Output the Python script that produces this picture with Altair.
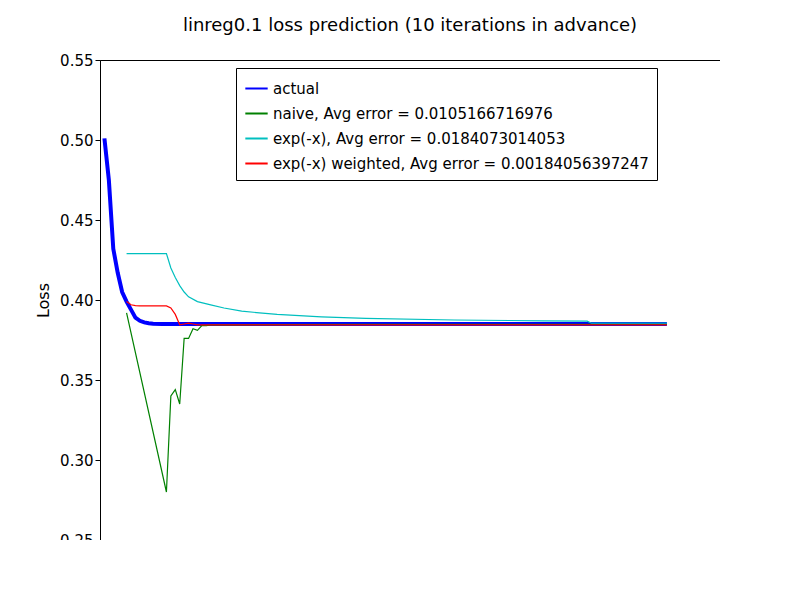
import altair as alt
import pandas as pd

actual_x = [1,2,3,4,5,6,7,8,9,10,11,12,14,16,20,30,60,100,128]
actual_y = [0.501,0.475,0.432,0.417,0.405,0.399,0.394,0.389,0.387,0.386,0.3855,0.3852,0.385,0.385,0.385,0.385,0.385,0.385,0.385]
naive_x = [6,15,16,17,18,19,20,21,22,23,24,25,30,60,100,128]
naive_y = [0.392,0.280,0.340,0.344,0.335,0.376,0.376,0.382,0.381,0.384,0.384,0.3845,0.3845,0.3848,0.3848,0.3848]
exp_x = [6,15,16,17,18,19,20,22,25,28,32,36,40,50,60,80,100,110,111,128]
exp_y = [0.429,0.429,0.420,0.414,0.409,0.405,0.402,0.399,0.397,0.395,0.393,0.392,0.391,0.3895,0.3885,0.3875,0.387,0.3868,0.3855,0.3855]
w_x = [6,7,8,9,15,16,17,18,19,20,21,22,128]
w_y = [0.399,0.397,0.3965,0.3963,0.3963,0.395,0.391,0.3845,0.385,0.3855,0.385,0.3845,0.3845]

labels = ["actual",
          "naive, Avg error = 0.0105166716976",
          "exp(-x), Avg error = 0.0184073014053",
          "exp(-x) weighted, Avg error = 0.00184056397247"]
colors = ["#0000ff", "#008000", "#00bfbf", "#ff0000"]
widths = [4, 1.2, 1.2, 1.2]

rows = []
for i, (lab, xs, ys) in enumerate(zip(labels, [actual_x, naive_x, exp_x, w_x], [actual_y, naive_y, exp_y, w_y])):
    for x, y in zip(xs, ys):
        rows.append({"series": lab, "x": x, "y": y, "w": widths[i], "k": i})
df = pd.DataFrame(rows)

chart = alt.Chart(df).mark_line().encode(
    x=alt.X("x:Q", title="Iteration", scale=alt.Scale(domain=[0, 140], nice=False),
            axis=alt.Axis(values=list(range(0, 141, 20)))),
    y=alt.Y("y:Q", title="Loss", scale=alt.Scale(domain=[0.25, 0.55], nice=False, zero=False),
            axis=alt.Axis(values=[0.25,0.30,0.35,0.40,0.45,0.50,0.55], format=".2f")),
    color=alt.Color("series:N", sort=labels,
                    scale=alt.Scale(domain=labels, range=colors),
                    legend=alt.Legend(title=None, orient="none", legendX=136, legendY=8,
                                      symbolType="stroke", symbolStrokeWidth=2, labelFontSize=15,
                                      strokeColor="black", padding=8, fillColor="white",
                                      labelLimit=500, symbolSize=500, rowPadding=4)),
    strokeWidth=alt.StrokeWidth("w:Q", scale=None),
    detail="k:N",
    order=alt.Order("x:Q"),
).properties(
    width=620, height=480,
    autosize=alt.AutoSizeParams(type="none"),
    padding={"left": 92, "top": 52, "right": 0, "bottom": 0},
    title=alt.TitleParams("linreg0.1 loss prediction (10 iterations in advance)", fontSize=18,
                          fontWeight="normal", offset=18, font="DejaVu Sans"),
).configure_view(stroke="black", strokeWidth=1).configure_axis(
    labelFontSize=15, titleFontSize=16, titleFontWeight="normal", domainColor="black",
    tickColor="black", labelColor="black", titleColor="black", grid=False,
    labelFont="DejaVu Sans", titleFont="DejaVu Sans", titlePadding=8
).configure_legend(labelFont="DejaVu Sans", labelColor="black")

chart.save("out.html", embed_options={"renderer": "svg", "actions": False})
